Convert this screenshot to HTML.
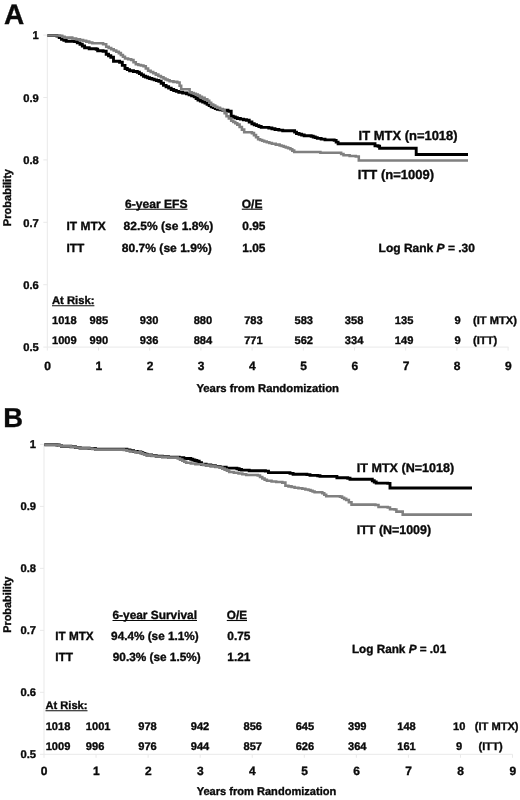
<!DOCTYPE html>
<html><head><meta charset="utf-8"><title>Figure</title>
<style>
html,body{margin:0;padding:0;background:#fff;}
svg{display:block}
text{font-family:"Liberation Sans",Arial,sans-serif;font-weight:bold;fill:#0a0a0a;stroke:#0a0a0a;stroke-width:0.35px;text-rendering:geometricPrecision;}
.r{font-size:11.1px}
.s{font-size:11.9px}
.ax{font-size:11.2px}
.xt{font-size:12px}
.lab{font-size:13.1px}
.labb{font-size:12.5px}
.big{font-size:28px}
.bigb{font-size:27.4px}
.c{fill:none;stroke-width:2.9;stroke-linejoin:miter;stroke-linecap:butt}
.axl{stroke:#e9e9e9;stroke-width:1;fill:none}
.u{stroke:#0a0a0a;stroke-width:1.1}
</style></head><body>
<svg width="520" height="800" viewBox="0 0 520 800">
<rect width="520" height="800" fill="#fff"/>

<path class="axl" d="M47.3,35.1 V347.1 H508.5"/>
<path class="axl" d="M43.3,35.1 H47.3"/>
<path class="axl" d="M43.3,97.5 H47.3"/>
<path class="axl" d="M43.3,159.9 H47.3"/>
<path class="axl" d="M43.3,222.3 H47.3"/>
<path class="axl" d="M43.3,284.7 H47.3"/>
<path class="axl" d="M43.3,347.1 H47.3"/>
<path class="axl" d="M47.3,347.1 v3.5"/>
<path class="axl" d="M98.5,347.1 v3.5"/>
<path class="axl" d="M149.7,347.1 v3.5"/>
<path class="axl" d="M200.9,347.1 v3.5"/>
<path class="axl" d="M252.1,347.1 v3.5"/>
<path class="axl" d="M303.3,347.1 v3.5"/>
<path class="axl" d="M354.5,347.1 v3.5"/>
<path class="axl" d="M405.7,347.1 v3.5"/>
<path class="axl" d="M456.9,347.1 v3.5"/>
<path class="axl" d="M508.1,347.1 v3.5"/>
<text class="big" x="4" y="24.4">A</text>
<text class="ax" x="38.8" y="39.3" text-anchor="end">1</text>
<text class="ax" x="38.8" y="101.7" text-anchor="end">0.9</text>
<text class="ax" x="38.8" y="164.1" text-anchor="end">0.8</text>
<text class="ax" x="38.8" y="226.5" text-anchor="end">0.7</text>
<text class="ax" x="38.8" y="288.9" text-anchor="end">0.6</text>
<text class="ax" x="38.8" y="351.3" text-anchor="end">0.5</text>
<text class="xt" x="47.6" y="369.6" text-anchor="middle">0</text>
<text class="xt" x="98.8" y="369.6" text-anchor="middle">1</text>
<text class="xt" x="150.0" y="369.6" text-anchor="middle">2</text>
<text class="xt" x="201.2" y="369.6" text-anchor="middle">3</text>
<text class="xt" x="252.4" y="369.6" text-anchor="middle">4</text>
<text class="xt" x="303.6" y="369.6" text-anchor="middle">5</text>
<text class="xt" x="354.8" y="369.6" text-anchor="middle">6</text>
<text class="xt" x="406.0" y="369.6" text-anchor="middle">7</text>
<text class="xt" x="457.2" y="369.6" text-anchor="middle">8</text>
<text class="xt" x="508.4" y="369.6" text-anchor="middle">9</text>
<text class="ax" x="267.7" y="392.4" text-anchor="middle" textLength="142.6" lengthAdjust="spacingAndGlyphs">Years from Randomization</text>
<text class="ax" text-anchor="middle" textLength="57.2" lengthAdjust="spacingAndGlyphs" transform="translate(11.4,197.6) rotate(-90)">Probability</text>
<polyline class="c" stroke="#000" points="47.5,35.5 56.9,35.5 56.9,36.1 59.2,36.1 59.2,37.65 61.5,37.65 61.5,39.2 63.85,39.2 63.85,40.2 66.2,40.2 66.2,41.2 74.6,41.2 74.6,41.6 77.3,41.6 77.3,42.9 80.0,42.9 80.0,44.2 82.3,44.2 82.3,46.0 84.6,46.0 84.6,47.8 89.2,47.8 89.2,48.8 96.2,48.8 96.2,49.3 97.7,49.3 97.7,50.8 103.1,50.8 103.1,51.2 106.2,51.2 106.2,54.2 108.5,54.2 108.5,55.75 110.8,55.75 110.8,57.3 113.5,57.3 113.5,61.3 119.6,61.3 119.6,62.3 122.3,62.3 122.3,65.4 125.0,65.4 125.0,68.5 127.3,68.5 127.3,69.65 129.6,69.65 129.6,70.8 133.45,70.8 133.45,71.55 137.3,71.55 137.3,72.3 139.37,72.3 139.37,73.6 141.43,73.6 141.43,74.9 143.5,74.9 143.5,76.2 145.53,76.2 145.53,76.97 147.57,76.97 147.57,77.73 149.6,77.73 149.6,78.5 151.9,78.5 151.9,79.17 154.2,79.17 154.2,79.85 156.5,79.85 156.5,80.53 158.8,80.53 158.8,81.2 161.15,81.2 161.15,83.3 163.5,83.3 163.5,85.4 166.07,85.4 166.07,86.77 168.63,86.77 168.63,88.13 171.2,88.13 171.2,89.5 173.73,89.5 173.73,90.43 176.27,90.43 176.27,91.37 178.8,91.37 178.8,92.3 182.65,92.3 182.65,93.05 186.5,93.05 186.5,93.8 189.07,93.8 189.07,94.83 191.63,94.83 191.63,95.87 194.2,95.87 194.2,96.9 196.1,96.9 196.1,98.45 198.0,98.45 198.0,100.0 200.33,100.0 200.33,101.0 202.67,101.0 202.67,102.0 205.0,102.0 205.0,103.0 207.07,103.0 207.07,104.3 209.13,104.3 209.13,105.6 211.2,105.6 211.2,106.9 213.23,106.9 213.23,107.67 215.27,107.67 215.27,108.43 217.3,108.43 217.3,109.2 220.0,109.2 220.0,109.75 222.7,109.75 222.7,110.3 228.0,110.3 228.0,111.2 231.2,111.2 231.2,116.2 233.23,116.2 233.23,116.97 235.27,116.97 235.27,117.73 237.3,117.73 237.3,118.5 240.37,118.5 240.37,119.1 243.43,119.1 243.43,119.7 246.5,119.7 246.5,120.3 249.2,120.3 249.2,122.05 251.9,122.05 251.9,123.8 254.22,123.8 254.22,124.7 256.55,124.7 256.55,125.6 258.88,125.6 258.88,126.5 261.2,126.5 261.2,127.4 268.8,127.4 268.8,128.0 271.9,128.0 271.9,128.75 275.0,128.75 275.0,129.5 278.85,129.5 278.85,130.15 282.7,130.15 282.7,130.8 292.7,130.8 292.7,130.8 294.6,130.8 294.6,132.15 296.5,132.15 296.5,133.5 299.07,133.5 299.07,134.23 301.63,134.23 301.63,134.97 304.2,134.97 304.2,135.7 311.2,135.7 311.2,136.2 313.23,136.2 313.23,136.93 315.27,136.93 315.27,137.67 317.3,137.67 317.3,138.4 321.15,138.4 321.15,139.15 325.0,139.15 325.0,139.9 334.2,139.9 334.2,140.4 336.15,140.4 336.15,142.1 338.1,142.1 338.1,143.8 372.7,143.8 372.7,143.8 375.0,143.8 375.0,145.8 378.1,145.8 378.1,146.2 379.6,146.2 379.6,148.3 416.2,148.3 416.2,148.3 416.2,148.3 416.2,154.5 468.0,154.5 468.0,154.5"/>
<polyline class="c" style="stroke:#808080;stroke-width:2.55" points="47.5,35.5 60.0,35.5 60.0,35.8 62.3,35.8 62.3,36.7 64.6,36.7 64.6,37.6 72.3,37.6 72.3,38.5 76.15,38.5 76.15,39.25 80.0,39.25 80.0,40.0 83.1,40.0 83.1,40.8 86.2,40.8 86.2,41.6 89.25,41.6 89.25,42.4 92.3,42.4 92.3,43.2 103.1,43.2 103.1,44.2 106.2,44.2 106.2,46.8 108.7,46.8 108.7,48.0 111.2,48.0 111.2,49.2 113.73,49.2 113.73,50.5 116.27,50.5 116.27,51.8 118.8,51.8 118.8,53.1 120.87,53.1 120.87,54.9 122.93,54.9 122.93,56.7 125.0,56.7 125.0,58.5 128.1,58.5 128.1,59.25 131.2,59.25 131.2,60.0 133.5,60.0 133.5,62.15 135.8,62.15 135.8,64.3 138.37,64.3 138.37,64.93 140.93,64.93 140.93,65.57 143.5,65.57 143.5,66.2 145.8,66.2 145.8,68.5 148.1,68.5 148.1,70.8 150.67,70.8 150.67,72.07 153.23,72.07 153.23,73.33 155.8,73.33 155.8,74.6 158.37,74.6 158.37,75.9 160.93,75.9 160.93,77.2 163.5,77.2 163.5,78.5 165.53,78.5 165.53,79.4 167.57,79.4 167.57,80.3 169.6,80.3 169.6,81.2 173.45,81.2 173.45,81.85 177.3,81.85 177.3,82.5 179.6,82.5 179.6,85.8 181.2,85.8 181.2,89.2 186.5,89.2 186.5,89.2 189.6,89.2 189.6,92.3 191.67,92.3 191.67,93.07 193.73,93.07 193.73,93.83 195.8,93.83 195.8,94.6 197.83,94.6 197.83,95.63 199.87,95.63 199.87,96.67 201.9,96.67 201.9,97.7 204.6,97.7 204.6,99.25 207.3,99.25 207.3,100.8 209.25,100.8 209.25,102.7 211.2,102.7 211.2,104.6 213.23,104.6 213.23,105.63 215.27,105.63 215.27,106.67 217.3,106.67 217.3,107.7 220.0,107.7 220.0,109.0 222.7,109.0 222.7,110.3 224.6,110.3 224.6,113.25 226.5,113.25 226.5,116.2 228.85,116.2 228.85,118.5 231.2,118.5 231.2,120.8 233.23,120.8 233.23,122.07 235.27,122.07 235.27,123.33 237.3,123.33 237.3,124.6 239.6,124.6 239.6,126.9 241.9,126.9 241.9,129.6 244.2,129.6 244.2,132.3 251.9,132.3 251.9,133.1 253.97,133.1 253.97,135.13 256.03,135.13 256.03,137.17 258.1,137.17 258.1,139.2 260.13,139.2 260.13,139.97 262.17,139.97 262.17,140.73 264.2,140.73 264.2,141.5 266.77,141.5 266.77,142.27 269.33,142.27 269.33,143.03 271.9,143.03 271.9,143.8 275.75,143.8 275.75,144.6 279.6,144.6 279.6,145.4 281.67,145.4 281.67,146.07 283.73,146.07 283.73,146.73 285.8,146.73 285.8,147.4 288.1,147.4 288.1,148.3 290.4,148.3 290.4,149.2 292.3,149.2 292.3,150.6 294.2,150.6 294.2,152.0 317.3,152.0 317.3,152.0 320.4,152.0 320.4,152.7 338.8,152.7 338.8,152.7 341.15,152.7 341.15,154.0 343.5,154.0 343.5,155.3 349.65,155.3 349.65,155.9 355.8,155.9 355.8,156.5 358.8,156.5 358.8,160.5 468.0,160.5 468.0,160.5"/>
<text class="lab" x="358.6" y="140" textLength="99" lengthAdjust="spacingAndGlyphs">IT MTX (n=1018)</text>
<text class="lab" x="357.8" y="179.2" textLength="76.2" lengthAdjust="spacingAndGlyphs">ITT (n=1009)</text>
<text class="s" x="125" y="207.5" textLength="62.5" lengthAdjust="spacingAndGlyphs">6-year EFS</text>
<path class="u" d="M125,209.2 H187.5"/>
<text class="s" x="241.8" y="207.5" textLength="20.6" lengthAdjust="spacingAndGlyphs">O/E</text>
<path class="u" d="M241.8,209.2 H262.4"/>
<text class="s" x="66.5" y="229.5" textLength="39.2" lengthAdjust="spacingAndGlyphs">IT MTX</text>
<text class="s" x="123.6" y="229.5" textLength="89.6" lengthAdjust="spacingAndGlyphs">82.5% (se 1.8%)</text>
<text class="s" x="242.3" y="229.5">0.95</text>
<text class="s" x="66.5" y="251.9">ITT</text>
<text class="s" x="121.8" y="251.9" textLength="89.9" lengthAdjust="spacingAndGlyphs">80.7% (se 1.9%)</text>
<text class="s" x="242.3" y="251.9">1.05</text>
<text class="s" x="378.6" y="251.9" textLength="96.3" lengthAdjust="spacingAndGlyphs">Log Rank <tspan font-style="italic">P</tspan> = .30</text>
<text class="r" x="52" y="303.8" textLength="42.4" lengthAdjust="spacingAndGlyphs">At Risk:</text>
<path class="u" d="M52,305.7 H94.4"/>
<text class="r" x="52" y="324.3">1018</text>
<text class="r" x="52" y="344.3">1009</text>
<text class="r" x="89.6" y="324.3">985</text>
<text class="r" x="89.6" y="344.3">990</text>
<text class="r" x="149.1" y="324.3" text-anchor="middle">930</text>
<text class="r" x="149.1" y="344.3" text-anchor="middle">936</text>
<text class="r" x="202.9" y="324.3" text-anchor="middle">880</text>
<text class="r" x="202.9" y="344.3" text-anchor="middle">884</text>
<text class="r" x="253.4" y="324.3" text-anchor="middle">783</text>
<text class="r" x="253.4" y="344.3" text-anchor="middle">771</text>
<text class="r" x="303.8" y="324.3" text-anchor="middle">583</text>
<text class="r" x="303.8" y="344.3" text-anchor="middle">562</text>
<text class="r" x="354.1" y="324.3" text-anchor="middle">358</text>
<text class="r" x="354.1" y="344.3" text-anchor="middle">334</text>
<text class="r" x="404.1" y="324.3" text-anchor="middle">135</text>
<text class="r" x="404.1" y="344.3" text-anchor="middle">149</text>
<text class="r" x="457.6" y="324.3" text-anchor="middle">9</text>
<text class="r" x="457.6" y="344.3" text-anchor="middle">9</text>
<text class="r" x="473.1" y="324.3">(IT MTX)</text>
<text class="r" x="473.1" y="344.3">(ITT)</text>
<path class="axl" d="M44.0,444.4 V754.3 H512.5"/>
<path class="axl" d="M40.0,444.4 H44.0"/>
<path class="axl" d="M40.0,506.38 H44.0"/>
<path class="axl" d="M40.0,568.36 H44.0"/>
<path class="axl" d="M40.0,630.34 H44.0"/>
<path class="axl" d="M40.0,692.32 H44.0"/>
<path class="axl" d="M40.0,754.3 H44.0"/>
<path class="axl" d="M44.0,754.3 v3.5"/>
<path class="axl" d="M96.06,754.3 v3.5"/>
<path class="axl" d="M148.12,754.3 v3.5"/>
<path class="axl" d="M200.18,754.3 v3.5"/>
<path class="axl" d="M252.24,754.3 v3.5"/>
<path class="axl" d="M304.3,754.3 v3.5"/>
<path class="axl" d="M356.36,754.3 v3.5"/>
<path class="axl" d="M408.42,754.3 v3.5"/>
<path class="axl" d="M460.48,754.3 v3.5"/>
<path class="axl" d="M512.54,754.3 v3.5"/>
<text class="bigb" x="3.2" y="426.9">B</text>
<text class="ax" x="36.0" y="448.0" text-anchor="end">1</text>
<text class="ax" x="36.0" y="509.98" text-anchor="end">0.9</text>
<text class="ax" x="36.0" y="571.96" text-anchor="end">0.8</text>
<text class="ax" x="36.0" y="633.94" text-anchor="end">0.7</text>
<text class="ax" x="36.0" y="695.92" text-anchor="end">0.6</text>
<text class="ax" x="36.0" y="757.9" text-anchor="end">0.5</text>
<text class="xt" x="44.2" y="775.0" text-anchor="middle">0</text>
<text class="xt" x="96.26" y="775.0" text-anchor="middle">1</text>
<text class="xt" x="148.32" y="775.0" text-anchor="middle">2</text>
<text class="xt" x="200.38" y="775.0" text-anchor="middle">3</text>
<text class="xt" x="252.44" y="775.0" text-anchor="middle">4</text>
<text class="xt" x="304.5" y="775.0" text-anchor="middle">5</text>
<text class="xt" x="356.56" y="775.0" text-anchor="middle">6</text>
<text class="xt" x="408.62" y="775.0" text-anchor="middle">7</text>
<text class="xt" x="460.68" y="775.0" text-anchor="middle">8</text>
<text class="xt" x="512.74" y="775.0" text-anchor="middle">9</text>
<text class="ax" x="266.5" y="795.0" text-anchor="middle" textLength="139.6" lengthAdjust="spacingAndGlyphs">Years from Randomization</text>
<text class="ax" text-anchor="middle" textLength="56.2" lengthAdjust="spacingAndGlyphs" transform="translate(11.2,604.7) rotate(-90)">Probability</text>
<polyline class="c" stroke="#000" points="44.3,444.7 56.9,444.7 56.9,445.0 59.2,445.0 59.2,445.6 61.5,445.6 61.5,446.2 70.8,446.2 70.8,446.8 75.4,446.8 75.4,447.45 80.0,447.45 80.0,448.1 89.2,448.1 89.2,448.5 95.4,448.5 95.4,449.3 123.8,449.3 123.8,449.3 126.9,449.3 126.9,450.05 130.0,450.05 130.0,450.8 133.6,450.8 133.6,451.43 137.2,451.43 137.2,452.07 140.8,452.07 140.8,452.7 142.83,452.7 142.83,453.47 144.87,453.47 144.87,454.23 146.9,454.23 146.9,455.0 151.55,455.0 151.55,455.6 156.2,455.6 156.2,456.2 162.35,456.2 162.35,456.75 168.5,456.75 168.5,457.3 179.2,457.3 179.2,457.8 183.8,457.8 183.8,458.5 190.8,458.5 190.8,459.3 192.83,459.3 192.83,459.93 194.87,459.93 194.87,460.57 196.9,460.57 196.9,461.2 199.2,461.2 199.2,462.7 201.5,462.7 201.5,464.2 206.15,464.2 206.15,465.0 210.8,465.0 210.8,465.8 215.4,465.8 215.4,466.55 220.0,466.55 220.0,467.3 226.2,467.3 226.2,468.1 236.9,468.1 236.9,468.8 239.2,468.8 239.2,469.45 241.5,469.45 241.5,470.1 249.2,470.1 249.2,470.7 265.4,470.7 265.4,471.1 268.5,471.1 268.5,472.6 290.0,472.6 290.0,473.4 293.1,473.4 293.1,474.3 306.9,474.3 306.9,474.6 310.0,474.6 310.0,475.4 317.7,475.4 317.7,475.7 320.0,475.7 320.0,476.4 333.8,476.4 333.8,476.4 336.9,476.4 336.9,477.7 347.7,477.7 347.7,478.2 350.0,478.2 350.0,479.2 369.2,479.2 369.2,479.2 372.3,479.2 372.3,480.8 374.25,480.8 374.25,481.95 376.2,481.95 376.2,483.1 387.7,483.1 387.7,483.4 390.0,483.4 390.0,488.0 472.0,488.0 472.0,488.0"/>
<polyline class="c" style="stroke:#808080;stroke-width:2.55" points="44.3,444.7 56.9,444.7 56.9,445.0 59.2,445.0 59.2,445.6 61.5,445.6 61.5,446.2 70.8,446.2 70.8,446.8 75.4,446.8 75.4,447.45 80.0,447.45 80.0,448.1 89.2,448.1 89.2,448.5 92.3,448.5 92.3,449.05 95.4,449.05 95.4,449.6 123.8,449.6 123.8,449.9 126.9,449.9 126.9,450.7 130.0,450.7 130.0,451.5 135.4,451.5 135.4,452.35 140.8,452.35 140.8,453.2 142.83,453.2 142.83,453.9 144.87,453.9 144.87,454.6 146.9,454.6 146.9,455.3 151.55,455.3 151.55,455.9 156.2,455.9 156.2,456.5 162.35,456.5 162.35,457.05 168.5,457.05 168.5,457.6 177.7,457.6 177.7,458.5 180.0,458.5 180.0,459.6 182.3,459.6 182.3,460.7 184.25,460.7 184.25,461.7 186.2,461.7 186.2,462.7 190.8,462.7 190.8,463.45 195.4,463.45 195.4,464.2 203.1,464.2 203.1,465.0 206.95,465.0 206.95,465.55 210.8,465.55 210.8,466.1 215.4,466.1 215.4,466.85 220.0,466.85 220.0,467.6 222.3,467.6 222.3,468.6 224.6,468.6 224.6,469.6 226.9,469.6 226.9,470.75 229.2,470.75 229.2,471.9 233.85,471.9 233.85,472.7 238.5,472.7 238.5,473.5 242.35,473.5 242.35,474.25 246.2,474.25 246.2,475.0 257.7,475.0 257.7,475.5 260.0,475.5 260.0,477.0 262.3,477.0 262.3,478.5 264.6,478.5 264.6,479.65 266.9,479.65 266.9,480.8 271.55,480.8 271.55,481.4 276.2,481.4 276.2,482.0 282.3,482.0 282.3,482.6 285.4,482.6 285.4,485.7 288.47,485.7 288.47,486.37 291.53,486.37 291.53,487.03 294.6,487.03 294.6,487.7 298.45,487.7 298.45,488.25 302.3,488.25 302.3,488.8 305.4,488.8 305.4,489.4 308.5,489.4 308.5,490.0 310.53,490.0 310.53,490.77 312.57,490.77 312.57,491.53 314.6,491.53 314.6,492.3 322.3,492.3 322.3,493.3 324.25,493.3 324.25,494.75 326.2,494.75 326.2,496.2 340.0,496.2 340.0,496.6 342.07,496.6 342.07,497.73 344.13,497.73 344.13,498.87 346.2,498.87 346.2,500.0 348.85,500.0 348.85,502.3 351.5,502.3 351.5,504.6 375.4,504.6 375.4,504.9 378.5,504.9 378.5,506.9 387.7,506.9 387.7,507.4 390.0,507.4 390.0,509.2 394.5,509.2 394.5,509.5 396.4,509.5 396.4,511.6 401.2,511.6 401.2,511.6 402.7,511.6 402.7,514.6 472.0,514.6 472.0,514.6"/>
<text class="labb" x="356.8" y="471.6" textLength="97.4" lengthAdjust="spacingAndGlyphs">IT MTX (N=1018)</text>
<text class="labb" x="356.8" y="534.1" textLength="74.3" lengthAdjust="spacingAndGlyphs">ITT (N=1009)</text>
<text class="s" x="112.5" y="618.7" textLength="84.5" lengthAdjust="spacingAndGlyphs">6-year Survival</text>
<path class="u" d="M112.5,620.5 H197"/>
<text class="s" x="226.8" y="618.7" textLength="20.2" lengthAdjust="spacingAndGlyphs">O/E</text>
<path class="u" d="M226.8,620.5 H247"/>
<text class="s" x="55.3" y="640" textLength="38.4" lengthAdjust="spacingAndGlyphs">IT MTX</text>
<text class="s" x="111.1" y="640" textLength="87.6" lengthAdjust="spacingAndGlyphs">94.4% (se 1.1%)</text>
<text class="s" x="227.3" y="640">0.75</text>
<text class="s" x="55.3" y="661.2">ITT</text>
<text class="s" x="112.8" y="661.2" textLength="87.9" lengthAdjust="spacingAndGlyphs">90.3% (se 1.5%)</text>
<text class="s" x="227.3" y="661.2">1.21</text>
<text class="s" x="351.9" y="652.5" textLength="94.3" lengthAdjust="spacingAndGlyphs">Log Rank <tspan font-style="italic">P</tspan> = .01</text>
<text class="r" x="45.5" y="708.8" textLength="42" lengthAdjust="spacingAndGlyphs">At Risk:</text>
<path class="u" d="M45.5,710.8 H87.5"/>
<text class="r" x="45.7" y="729.7">1018</text>
<text class="r" x="45.7" y="749.7">1009</text>
<text class="r" x="85.8" y="729.7">1001</text>
<text class="r" x="85.8" y="749.7">996</text>
<text class="r" x="147.5" y="729.7" text-anchor="middle">978</text>
<text class="r" x="147.5" y="749.7" text-anchor="middle">976</text>
<text class="r" x="200" y="729.7" text-anchor="middle">942</text>
<text class="r" x="200" y="749.7" text-anchor="middle">944</text>
<text class="r" x="252.8" y="729.7" text-anchor="middle">856</text>
<text class="r" x="252.8" y="749.7" text-anchor="middle">857</text>
<text class="r" x="304.9" y="729.7" text-anchor="middle">645</text>
<text class="r" x="304.9" y="749.7" text-anchor="middle">626</text>
<text class="r" x="357.3" y="729.7" text-anchor="middle">399</text>
<text class="r" x="357.3" y="749.7" text-anchor="middle">364</text>
<text class="r" x="406.5" y="729.7" text-anchor="middle">148</text>
<text class="r" x="406.5" y="749.7" text-anchor="middle">161</text>
<text class="r" x="459.2" y="729.7" text-anchor="middle">10</text>
<text class="r" x="459.2" y="749.7" text-anchor="middle">9</text>
<text class="r" x="474.8" y="729.7">(IT MTX)</text>
<text class="r" x="478.6" y="749.7">(ITT)</text>
</svg></body></html>
